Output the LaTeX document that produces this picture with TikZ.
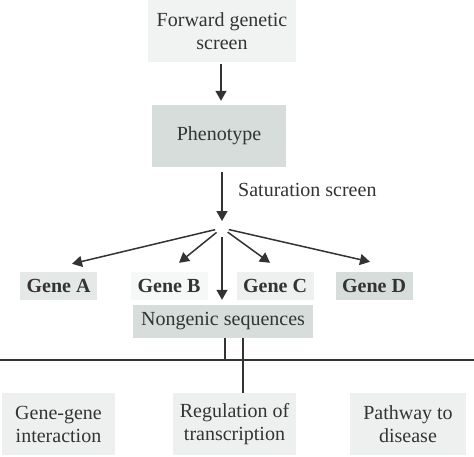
\documentclass[tikz,border=0pt]{standalone}
\usepackage{fontspec}
\setmainfont{Liberation Serif}
\usetikzlibrary{arrows.meta,calc}
\definecolor{txt}{HTML}{333333}
\definecolor{lite}{HTML}{F1F2F2}
\definecolor{mid}{HTML}{D6DDDB}
\definecolor{ga}{HTML}{E4E8E7}
\definecolor{gb}{HTML}{F6F7F7}
\definecolor{gc}{HTML}{EEF0EF}
\begin{document}
\begin{tikzpicture}[x=1pt,y=-1pt,
  box/.style={inner sep=0pt,align=center,text=txt,font=\fontsize{20}{23}\selectfont},
  gbox/.style={box,minimum width=77pt,minimum height=28pt,font=\fontsize{20}{23}\selectfont\bfseries},
  arr/.style={draw=txt,line width=1.5pt,-{Triangle[length=10pt,width=11pt]}},
  ln/.style={draw=txt,line width=1.2pt}]
\useasboundingbox (0,0) rectangle (474,456);
\node[box,fill=lite,minimum width=148pt,minimum height=62pt] (fwd) at (222,31) {Forward genetic\\screen};
\node[box,fill=mid,minimum width=134pt,minimum height=62pt] (phe) at (219,136) {Phenotype};
\node[box,anchor=west] (sat) at (238,190) {Saturation screen};
\coordinate (hub) at (222,228);
\node[gbox,fill=ga] (ga) at (58.5,286) {Gene A};
\node[gbox,fill=gb] (gb) at (169,286) {Gene B};
\node[gbox,fill=gc] (gc) at (275,286) {Gene C};
\node[gbox,fill=mid] (gd) at (374,286) {Gene D};
\node[box,fill=mid,minimum width=180pt,minimum height=33pt] (ng) at (223,321.5) {Nongenic sequences};
\node[box,fill=gc,minimum width=113pt,minimum height=62pt] (gg) at (58.5,424) {Gene-gene\\interaction};
\node[box,fill=gc,minimum width=123pt,minimum height=62pt] (reg) at (234.5,424) {Regulation of\\transcription};
\node[box,fill=gc,minimum width=116pt,minimum height=62pt] (pw) at (408,424) {Pathway to\\disease};
\coordinate (hl) at (0,360);
\coordinate (hr) at (474,360);
% arrows
\draw[arr,shorten <=2pt] (fwd.south -| 221,0) -- ([yshift=4pt]phe.north -| 221,0);
\draw[arr,shorten <=5pt] (phe.south -| 222,0) -- ([yshift=7pt]hub);
\draw[arr,shorten <=7pt] (hub) -- ([xshift=13.5pt,yshift=8pt]ga.north);
\draw[arr,shorten <=7pt] (hub) -- ([xshift=10pt,yshift=9pt]gb.north);
\draw[arr,shorten <=9pt] (hub) -- ([xshift=-1pt,yshift=5pt]ng.north);
\draw[arr,shorten <=7pt] (hub) -- ([xshift=-5pt,yshift=9pt]gc.north);
\draw[arr,shorten <=7pt] (hub) -- ([xshift=-4pt,yshift=10pt]gd.north);
% lines
\draw[ln] (hl) -- (hr);
\draw[ln] ([xshift=2pt]ng.south) -- ([xshift=2pt]ng.south |- hl);
\draw[ln] ([xshift=20pt]ng.south) -- ([xshift=20pt]ng.south |- reg.north);
\end{tikzpicture}
\end{document}
